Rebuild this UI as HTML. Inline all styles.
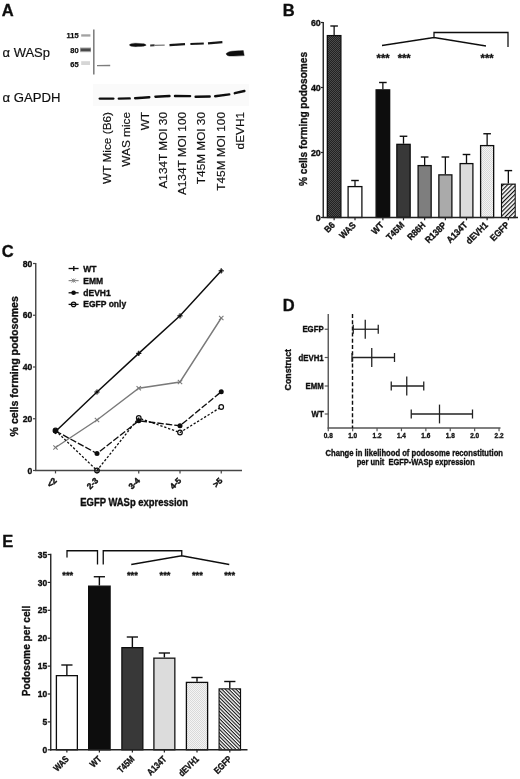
<!DOCTYPE html>
<html><head><meta charset="utf-8"><title>Figure</title>
<style>html,body{margin:0;padding:0;background:#fff;}svg{display:block;font-family:'Liberation Sans', sans-serif;}</style>
</head><body>
<svg width="520" height="779" viewBox="0 0 520 779" font-family='"Liberation Sans", sans-serif'>
<defs>
<pattern id="pdark" width="2" height="2" patternUnits="userSpaceOnUse"><rect width="2" height="2" fill="#222"/><rect width="1" height="1" fill="#4c4c4c"/><rect x="1" y="1" width="1" height="1" fill="#4c4c4c"/></pattern>
<pattern id="pdots" width="2" height="2" patternUnits="userSpaceOnUse"><rect width="2" height="2" fill="#f4f4f4"/><rect width="1" height="1" fill="#d9d9d9"/><rect x="1" y="1" width="1" height="1" fill="#d9d9d9"/></pattern>
<pattern id="hatchF" width="3" height="3" patternUnits="userSpaceOnUse" patternTransform="rotate(-45)"><rect width="3" height="3" fill="#fff"/><rect width="3" height="1.2" fill="#111"/></pattern>
<pattern id="hatchB" width="2.5" height="2.5" patternUnits="userSpaceOnUse" patternTransform="rotate(45)"><rect width="2.5" height="2.5" fill="#fff"/><rect width="2.5" height="1.1" fill="#111"/></pattern>
<filter id="bl" x="-20%" y="-100%" width="140%" height="300%"><feGaussianBlur stdDeviation="0.6"/></filter>
<filter id="bl2" x="-20%" y="-100%" width="140%" height="300%"><feGaussianBlur stdDeviation="0.9"/></filter>
<filter id="soft2" x="0" y="0" width="520" height="779" filterUnits="userSpaceOnUse"><feGaussianBlur stdDeviation="0.15"/></filter>
<filter id="soft" x="0" y="0" width="520" height="779" filterUnits="userSpaceOnUse"><feGaussianBlur stdDeviation="0.3"/></filter>
</defs>
<rect width="520" height="779" fill="#fff"/>
<g filter="url(#soft)">
<g id="panelA">
<text x="1.8" y="16.2" font-size="16.5" font-weight="bold" text-anchor="start" fill="#111" stroke="#111" stroke-width="0.35">A</text>
<text x="2.5" y="57" font-size="13" text-anchor="start" textLength="47.5" lengthAdjust="spacingAndGlyphs" fill="#111" stroke="#111" stroke-width="0.18">α WASp</text>
<text x="2.5" y="101.5" font-size="13" text-anchor="start" textLength="58" lengthAdjust="spacingAndGlyphs" fill="#111" stroke="#111" stroke-width="0.18">α GAPDH</text>
<text x="78.7" y="38.4" font-size="7.5" font-weight="bold" text-anchor="end" fill="#111" stroke="#111" stroke-width="0.25">115</text>
<text x="78.7" y="52.6" font-size="7.5" font-weight="bold" text-anchor="end" fill="#111" stroke="#111" stroke-width="0.25">80</text>
<text x="78.7" y="66.7" font-size="7.5" font-weight="bold" text-anchor="end" fill="#111" stroke="#111" stroke-width="0.25">65</text>
<g filter="url(#bl)">
<rect x="81.2" y="34.3" width="9.2" height="2.3" fill="#a2a2a2"/>
<rect x="80" y="47.4" width="11" height="4.8" fill="#b5b5b5"/>
<rect x="80.6" y="48.4" width="10" height="2.8" fill="#4a4a4a"/>
<rect x="81.2" y="61.2" width="8.8" height="3.8" fill="#d6d6d6"/>
</g>
<line x1="93.8" y1="29.6" x2="93.8" y2="74.6" stroke="#808080" stroke-width="1.6"/>
<g filter="url(#bl)">
<line x1="97" y1="65.7" x2="110.2" y2="65.5" stroke="#7d7d7d" stroke-width="1.3"/>
<path d="M129.3,45 Q130.5,43 136,43.2 L144,43.8 Q146.3,44.6 146.2,45.2 Q145,46.3 138,46.6 Q130.5,47 129.3,45 Z" stroke="#111" stroke-width="0.3" fill="#111"/>
<line x1="150.2" y1="45.4" x2="154.5" y2="45.3" stroke="#333" stroke-width="2"/>
<line x1="154" y1="45.4" x2="164.7" y2="45.1" stroke="#777" stroke-width="1.2"/>
<line x1="169.5" y1="45.1" x2="185" y2="44.1" stroke="#151515" stroke-width="2.2"/>
<line x1="190.4" y1="44.1" x2="203.8" y2="43.4" stroke="#151515" stroke-width="2.0"/>
<line x1="208" y1="43.4" x2="222.4" y2="42.2" stroke="#151515" stroke-width="2.2"/>
<path d="M226,53.8 Q228,51.2 235,51 L243.3,50.6 L244.2,55.6 Q236,56.3 229,56 Q226.5,55.5 226,53.8 Z" stroke="#111" stroke-width="0.4" fill="#111"/>
</g>
<rect x="93" y="84" width="156" height="22" fill="#fafafa"/>
<g filter="url(#bl)">
<line x1="99.8" y1="98.6" x2="113.30000000000001" y2="98.6" stroke="#111" stroke-width="2.4" stroke-linecap="round"/>
<line x1="118.8" y1="98.6" x2="129.70000000000002" y2="98.4" stroke="#111" stroke-width="2.4" stroke-linecap="round"/>
<line x1="135.1" y1="98.2" x2="149.3" y2="97.2" stroke="#111" stroke-width="2.4" stroke-linecap="round"/>
<line x1="155.4" y1="96.8" x2="169.5" y2="96" stroke="#111" stroke-width="2.4" stroke-linecap="round"/>
<line x1="175.0" y1="96" x2="190.1" y2="96.1" stroke="#111" stroke-width="2.4" stroke-linecap="round"/>
<line x1="195.6" y1="96.7" x2="209.70000000000002" y2="96.5" stroke="#111" stroke-width="2.4" stroke-linecap="round"/>
<line x1="215.1" y1="96.2" x2="229.3" y2="94.4" stroke="#111" stroke-width="2.4" stroke-linecap="round"/>
<line x1="234.79999999999998" y1="93.2" x2="244.4" y2="91" stroke="#111" stroke-width="2.4" stroke-linecap="round"/>
</g>
<text transform="translate(111,112) rotate(-90)" font-size="11.8" text-anchor="end" fill="#111" stroke="#111" stroke-width="0.18">WT Mice (B6)</text>
<text transform="translate(130,112) rotate(-90)" font-size="11.8" text-anchor="end" fill="#111" stroke="#111" stroke-width="0.18">WAS mice</text>
<text transform="translate(148.5,112) rotate(-90)" font-size="11.8" text-anchor="end" fill="#111" stroke="#111" stroke-width="0.18">WT</text>
<text transform="translate(167,112) rotate(-90)" font-size="11.8" text-anchor="end" fill="#111" stroke="#111" stroke-width="0.18">A134T MOI 30</text>
<text transform="translate(186,112) rotate(-90)" font-size="11.8" text-anchor="end" fill="#111" stroke="#111" stroke-width="0.18">A134T MOI 100</text>
<text transform="translate(205,112) rotate(-90)" font-size="11.8" text-anchor="end" fill="#111" stroke="#111" stroke-width="0.18">T45M MOI 30</text>
<text transform="translate(224.5,112) rotate(-90)" font-size="11.8" text-anchor="end" fill="#111" stroke="#111" stroke-width="0.18">T45M MOI 100</text>
<text transform="translate(243.5,112) rotate(-90)" font-size="11.8" text-anchor="end" fill="#111" stroke="#111" stroke-width="0.18">dEVH1</text>
</g>
<g id="panelB">
<text x="282.8" y="15.6" font-size="16.5" font-weight="bold" text-anchor="start" fill="#111" stroke="#111" stroke-width="0.35">B</text>
<line x1="334.125" y1="35" x2="334.125" y2="26" stroke="#111" stroke-width="1.3"/>
<line x1="330.325" y1="26" x2="337.925" y2="26" stroke="#111" stroke-width="1.4"/>
<rect x="327.35" y="35.6" width="13.55" height="181.9" fill="url(#pdark)" stroke="#111" stroke-width="1.3"/>
<line x1="334.125" y1="217.5" x2="334.125" y2="220.3" stroke="#222" stroke-width="1.2"/>
<text transform="translate(335.625,225.7) rotate(-45)" font-size="9.2" font-weight="bold" text-anchor="end" textLength="10.7" lengthAdjust="spacingAndGlyphs" fill="#111" stroke="#111" stroke-width="0.35">B6</text>
<line x1="355.0" y1="186" x2="355.0" y2="180.5" stroke="#111" stroke-width="1.3"/>
<line x1="351.2" y1="180.5" x2="358.8" y2="180.5" stroke="#111" stroke-width="1.4"/>
<rect x="348.1" y="186.6" width="13.8" height="30.9" fill="#fff" stroke="#111" stroke-width="1.3"/>
<line x1="355.0" y1="217.5" x2="355.0" y2="220.3" stroke="#222" stroke-width="1.2"/>
<text transform="translate(356.5,225.7) rotate(-45)" font-size="9.2" font-weight="bold" text-anchor="end" textLength="19.0" lengthAdjust="spacingAndGlyphs" fill="#111" stroke="#111" stroke-width="0.35">WAS</text>
<line x1="382.875" y1="89.25" x2="382.875" y2="82.5" stroke="#111" stroke-width="1.3"/>
<line x1="379.075" y1="82.5" x2="386.675" y2="82.5" stroke="#111" stroke-width="1.4"/>
<rect x="376.1" y="89.85" width="13.55" height="127.65" fill="#0a0a0a" stroke="#111" stroke-width="1.3"/>
<line x1="382.875" y1="217.5" x2="382.875" y2="220.3" stroke="#222" stroke-width="1.2"/>
<text transform="translate(384.375,225.7) rotate(-45)" font-size="9.2" font-weight="bold" text-anchor="end" textLength="13.0" lengthAdjust="spacingAndGlyphs" fill="#111" stroke="#111" stroke-width="0.35">WT</text>
<line x1="403.5" y1="143.75" x2="403.5" y2="136.25" stroke="#111" stroke-width="1.3"/>
<line x1="399.7" y1="136.25" x2="407.3" y2="136.25" stroke="#111" stroke-width="1.4"/>
<rect x="396.85" y="144.35" width="13.3" height="73.15" fill="#383838" stroke="#111" stroke-width="1.3"/>
<line x1="403.5" y1="217.5" x2="403.5" y2="220.3" stroke="#222" stroke-width="1.2"/>
<text transform="translate(405.0,225.7) rotate(-45)" font-size="9.2" font-weight="bold" text-anchor="end" textLength="21.3" lengthAdjust="spacingAndGlyphs" fill="#111" stroke="#111" stroke-width="0.35">T45M</text>
<line x1="424.625" y1="165" x2="424.625" y2="157" stroke="#111" stroke-width="1.3"/>
<line x1="420.825" y1="157" x2="428.425" y2="157" stroke="#111" stroke-width="1.4"/>
<rect x="418.1" y="165.6" width="13.05" height="51.9" fill="#7e7e7e" stroke="#111" stroke-width="1.3"/>
<line x1="424.625" y1="217.5" x2="424.625" y2="220.3" stroke="#222" stroke-width="1.2"/>
<text transform="translate(426.125,225.7) rotate(-45)" font-size="9.2" font-weight="bold" text-anchor="end" textLength="21.4" lengthAdjust="spacingAndGlyphs" fill="#111" stroke="#111" stroke-width="0.35">R86H</text>
<line x1="445.375" y1="174.25" x2="445.375" y2="157" stroke="#111" stroke-width="1.3"/>
<line x1="441.575" y1="157" x2="449.175" y2="157" stroke="#111" stroke-width="1.4"/>
<rect x="438.85" y="174.85" width="13.05" height="42.65" fill="#aaa" stroke="#111" stroke-width="1.3"/>
<line x1="445.375" y1="217.5" x2="445.375" y2="220.3" stroke="#222" stroke-width="1.2"/>
<text transform="translate(446.875,225.7) rotate(-45)" font-size="9.2" font-weight="bold" text-anchor="end" textLength="25.5" lengthAdjust="spacingAndGlyphs" fill="#111" stroke="#111" stroke-width="0.35">R138P</text>
<line x1="466.5" y1="163" x2="466.5" y2="154.5" stroke="#111" stroke-width="1.3"/>
<line x1="462.7" y1="154.5" x2="470.3" y2="154.5" stroke="#111" stroke-width="1.4"/>
<rect x="460.1" y="163.6" width="12.8" height="53.9" fill="#dcdcdc" stroke="#111" stroke-width="1.3"/>
<line x1="466.5" y1="217.5" x2="466.5" y2="220.3" stroke="#222" stroke-width="1.2"/>
<text transform="translate(468.0,225.7) rotate(-45)" font-size="9.2" font-weight="bold" text-anchor="end" textLength="25.1" lengthAdjust="spacingAndGlyphs" fill="#111" stroke="#111" stroke-width="0.35">A134T</text>
<line x1="487.125" y1="145" x2="487.125" y2="133.75" stroke="#111" stroke-width="1.3"/>
<line x1="483.325" y1="133.75" x2="490.925" y2="133.75" stroke="#111" stroke-width="1.4"/>
<rect x="480.6" y="145.6" width="13.05" height="71.9" fill="url(#pdots)" stroke="#111" stroke-width="1.3"/>
<line x1="487.125" y1="217.5" x2="487.125" y2="220.3" stroke="#222" stroke-width="1.2"/>
<text transform="translate(488.625,225.7) rotate(-45)" font-size="9.2" font-weight="bold" text-anchor="end" textLength="26.9" lengthAdjust="spacingAndGlyphs" fill="#111" stroke="#111" stroke-width="0.35">dEVH1</text>
<line x1="508.35" y1="183.6" x2="508.35" y2="170.6" stroke="#111" stroke-width="1.3"/>
<line x1="504.55" y1="170.6" x2="512.15" y2="170.6" stroke="#111" stroke-width="1.4"/>
<rect x="501.6" y="184.2" width="13.500000000000046" height="33.300000000000004" fill="url(#hatchF)" stroke="#111" stroke-width="1.3"/>
<line x1="508.35" y1="217.5" x2="508.35" y2="220.3" stroke="#222" stroke-width="1.2"/>
<text transform="translate(509.85,225.7) rotate(-45)" font-size="9.2" font-weight="bold" text-anchor="end" textLength="22.7" lengthAdjust="spacingAndGlyphs" fill="#111" stroke="#111" stroke-width="0.35">EGFP</text>
<line x1="323.25" y1="22" x2="323.25" y2="218.1" stroke="#222" stroke-width="1.4"/>
<line x1="322.6" y1="217.5" x2="518" y2="217.5" stroke="#222" stroke-width="1.4"/>
<line x1="321" y1="22.5" x2="323.25" y2="22.5" stroke="#222" stroke-width="1.2"/>
<text x="320.8" y="25.7" font-size="8.9" font-weight="bold" text-anchor="end" fill="#111" stroke="#111" stroke-width="0.35">60</text>
<line x1="321" y1="87.5" x2="323.25" y2="87.5" stroke="#222" stroke-width="1.2"/>
<text x="320.8" y="90.7" font-size="8.9" font-weight="bold" text-anchor="end" fill="#111" stroke="#111" stroke-width="0.35">40</text>
<line x1="321" y1="152.5" x2="323.25" y2="152.5" stroke="#222" stroke-width="1.2"/>
<text x="320.8" y="155.7" font-size="8.9" font-weight="bold" text-anchor="end" fill="#111" stroke="#111" stroke-width="0.35">20</text>
<line x1="321" y1="217.5" x2="323.25" y2="217.5" stroke="#222" stroke-width="1.2"/>
<text x="320.8" y="220.7" font-size="8.9" font-weight="bold" text-anchor="end" fill="#111" stroke="#111" stroke-width="0.35">0</text>
<text transform="translate(306.8,119) rotate(-90)" font-size="10.7" font-weight="bold" text-anchor="middle" textLength="134" lengthAdjust="spacingAndGlyphs" fill="#111" stroke="#111" stroke-width="0.35">% cells forming podosomes</text>
<path d="M382,45.5 L434,37.5 L486,46 M434,37.8 V32.5 H508 V47" stroke="#111" stroke-width="1.3" fill="none"/>
<text x="383.1" y="61.8" font-size="11.2" font-weight="bold" text-anchor="middle" fill="#111" stroke="#111" stroke-width="0.35">***</text>
<text x="404.2" y="61.8" font-size="11.2" font-weight="bold" text-anchor="middle" fill="#111" stroke="#111" stroke-width="0.35">***</text>
<text x="487.1" y="61.8" font-size="11.2" font-weight="bold" text-anchor="middle" fill="#111" stroke="#111" stroke-width="0.35">***</text>
</g>
<g id="panelC">
<text x="1.8" y="257.2" font-size="16.5" font-weight="bold" text-anchor="start" fill="#111" stroke="#111" stroke-width="0.35">C</text>
<line x1="35.75" y1="263" x2="35.75" y2="471.1" stroke="#444" stroke-width="1.4"/>
<line x1="35.1" y1="470.5" x2="242" y2="470.5" stroke="#444" stroke-width="1.4"/>
<line x1="33" y1="263.5" x2="35.75" y2="263.5" stroke="#444" stroke-width="1.2"/>
<text x="32.3" y="266.6" font-size="8.6" font-weight="bold" text-anchor="end" fill="#111" stroke="#111" stroke-width="0.35">80</text>
<line x1="33" y1="315.25" x2="35.75" y2="315.25" stroke="#444" stroke-width="1.2"/>
<text x="32.3" y="318.35" font-size="8.6" font-weight="bold" text-anchor="end" fill="#111" stroke="#111" stroke-width="0.35">60</text>
<line x1="33" y1="367" x2="35.75" y2="367" stroke="#444" stroke-width="1.2"/>
<text x="32.3" y="370.1" font-size="8.6" font-weight="bold" text-anchor="end" fill="#111" stroke="#111" stroke-width="0.35">40</text>
<line x1="33" y1="418.75" x2="35.75" y2="418.75" stroke="#444" stroke-width="1.2"/>
<text x="32.3" y="421.85" font-size="8.6" font-weight="bold" text-anchor="end" fill="#111" stroke="#111" stroke-width="0.35">20</text>
<line x1="33" y1="470.5" x2="35.75" y2="470.5" stroke="#444" stroke-width="1.2"/>
<text x="32.3" y="473.6" font-size="8.6" font-weight="bold" text-anchor="end" fill="#111" stroke="#111" stroke-width="0.35">0</text>
<line x1="55.5" y1="470.5" x2="55.5" y2="473.4" stroke="#444" stroke-width="1.2"/>
<text transform="translate(57.3,481.2) rotate(-45)" font-size="8.4" font-weight="bold" text-anchor="end" fill="#111" stroke="#111" stroke-width="0.45">&lt;2</text>
<line x1="97" y1="470.5" x2="97" y2="473.4" stroke="#444" stroke-width="1.2"/>
<text transform="translate(98.8,481.2) rotate(-45)" font-size="8.4" font-weight="bold" text-anchor="end" fill="#111" stroke="#111" stroke-width="0.45">2-3</text>
<line x1="138.75" y1="470.5" x2="138.75" y2="473.4" stroke="#444" stroke-width="1.2"/>
<text transform="translate(140.55,481.2) rotate(-45)" font-size="8.4" font-weight="bold" text-anchor="end" fill="#111" stroke="#111" stroke-width="0.45">3-4</text>
<line x1="180" y1="470.5" x2="180" y2="473.4" stroke="#444" stroke-width="1.2"/>
<text transform="translate(181.8,481.2) rotate(-45)" font-size="8.4" font-weight="bold" text-anchor="end" fill="#111" stroke="#111" stroke-width="0.45">4-5</text>
<line x1="221.25" y1="470.5" x2="221.25" y2="473.4" stroke="#444" stroke-width="1.2"/>
<text transform="translate(223.05,481.2) rotate(-45)" font-size="8.4" font-weight="bold" text-anchor="end" fill="#111" stroke="#111" stroke-width="0.45">&gt;5</text>
<text transform="translate(18,366.3) rotate(-90)" font-size="11.5" font-weight="bold" text-anchor="middle" textLength="140.3" lengthAdjust="spacingAndGlyphs" fill="#111" stroke="#111" stroke-width="0.35">% cells forming podosomes</text>
<text x="80.3" y="505.8" font-size="10.1" font-weight="bold" text-anchor="start" textLength="107.8" lengthAdjust="spacingAndGlyphs" fill="#111" stroke="#111" stroke-width="0.35">EGFP WASp expression</text>
<polyline points="55.5,447.5 97,420 138.75,388.25 180,382 221.25,318" fill="none" stroke="#7a7a7a" stroke-width="1.4"/>
<line x1="53.3" y1="445.3" x2="57.7" y2="449.7" stroke="#7a7a7a" stroke-width="1.1"/>
<line x1="53.3" y1="449.7" x2="57.7" y2="445.3" stroke="#7a7a7a" stroke-width="1.1"/>
<line x1="94.8" y1="417.8" x2="99.2" y2="422.2" stroke="#7a7a7a" stroke-width="1.1"/>
<line x1="94.8" y1="422.2" x2="99.2" y2="417.8" stroke="#7a7a7a" stroke-width="1.1"/>
<line x1="136.55" y1="386.05" x2="140.95" y2="390.45" stroke="#7a7a7a" stroke-width="1.1"/>
<line x1="136.55" y1="390.45" x2="140.95" y2="386.05" stroke="#7a7a7a" stroke-width="1.1"/>
<line x1="177.8" y1="379.8" x2="182.2" y2="384.2" stroke="#7a7a7a" stroke-width="1.1"/>
<line x1="177.8" y1="384.2" x2="182.2" y2="379.8" stroke="#7a7a7a" stroke-width="1.1"/>
<line x1="219.05" y1="315.8" x2="223.45" y2="320.2" stroke="#7a7a7a" stroke-width="1.1"/>
<line x1="219.05" y1="320.2" x2="223.45" y2="315.8" stroke="#7a7a7a" stroke-width="1.1"/>
<polyline points="55.5,430.5 97,470.5 138.75,418 180,432.5 221.25,407" fill="none" stroke="#111" stroke-width="1.3" stroke-dasharray="2.3,1.8"/>
<polyline points="55.5,430.9 97,453.5 138.75,420.8 180,425.75 221.25,391.75" fill="none" stroke="#111" stroke-width="1.35" stroke-dasharray="6.5,2"/>
<polyline points="55.5,431.5 97,392 138.75,353.4 180,315.8 221.25,270.8" fill="none" stroke="#111" stroke-width="1.5"/>
<line x1="52.9" y1="431.5" x2="58.1" y2="431.5" stroke="#111" stroke-width="1.2"/>
<line x1="55.5" y1="428.9" x2="55.5" y2="434.1" stroke="#111" stroke-width="1.2"/>
<line x1="54.2" y1="430.2" x2="56.8" y2="432.8" stroke="#111" stroke-width="0.96"/>
<line x1="54.2" y1="432.8" x2="56.8" y2="430.2" stroke="#111" stroke-width="0.96"/>
<line x1="94.4" y1="392" x2="99.6" y2="392" stroke="#111" stroke-width="1.2"/>
<line x1="97" y1="389.4" x2="97" y2="394.6" stroke="#111" stroke-width="1.2"/>
<line x1="95.7" y1="390.7" x2="98.3" y2="393.3" stroke="#111" stroke-width="0.96"/>
<line x1="95.7" y1="393.3" x2="98.3" y2="390.7" stroke="#111" stroke-width="0.96"/>
<line x1="136.15" y1="353.4" x2="141.35" y2="353.4" stroke="#111" stroke-width="1.2"/>
<line x1="138.75" y1="350.79999999999995" x2="138.75" y2="356.0" stroke="#111" stroke-width="1.2"/>
<line x1="137.45" y1="352.09999999999997" x2="140.05" y2="354.7" stroke="#111" stroke-width="0.96"/>
<line x1="137.45" y1="354.7" x2="140.05" y2="352.09999999999997" stroke="#111" stroke-width="0.96"/>
<line x1="177.4" y1="315.8" x2="182.6" y2="315.8" stroke="#111" stroke-width="1.2"/>
<line x1="180" y1="313.2" x2="180" y2="318.40000000000003" stroke="#111" stroke-width="1.2"/>
<line x1="178.7" y1="314.5" x2="181.3" y2="317.1" stroke="#111" stroke-width="0.96"/>
<line x1="178.7" y1="317.1" x2="181.3" y2="314.5" stroke="#111" stroke-width="0.96"/>
<line x1="218.65" y1="270.8" x2="223.85" y2="270.8" stroke="#111" stroke-width="1.2"/>
<line x1="221.25" y1="268.2" x2="221.25" y2="273.40000000000003" stroke="#111" stroke-width="1.2"/>
<line x1="219.95" y1="269.5" x2="222.55" y2="272.1" stroke="#111" stroke-width="0.96"/>
<line x1="219.95" y1="272.1" x2="222.55" y2="269.5" stroke="#111" stroke-width="0.96"/>
<circle cx="55.5" cy="430.9" r="2.5" fill="#111"/>
<circle cx="97" cy="453.5" r="2.5" fill="#111"/>
<circle cx="138.75" cy="420.8" r="2.5" fill="#111"/>
<circle cx="180" cy="425.75" r="2.5" fill="#111"/>
<circle cx="221.25" cy="391.75" r="2.5" fill="#111"/>
<circle cx="55.5" cy="430.5" r="2.3" fill="none" stroke="#111" stroke-width="1.2"/>
<circle cx="97" cy="470.5" r="2.3" fill="none" stroke="#111" stroke-width="1.2"/>
<circle cx="138.75" cy="418" r="2.3" fill="none" stroke="#111" stroke-width="1.2"/>
<circle cx="180" cy="432.5" r="2.3" fill="none" stroke="#111" stroke-width="1.2"/>
<circle cx="221.25" cy="407" r="2.3" fill="none" stroke="#111" stroke-width="1.2"/>
<line x1="68.6" y1="268.5" x2="78.6" y2="268.5" stroke="#111" stroke-width="1.3"/>
<line x1="73.8" y1="265.9" x2="73.8" y2="271.1" stroke="#111" stroke-width="1.4"/>
<line x1="68.6" y1="280.6" x2="78.6" y2="280.6" stroke="#8a8a8a" stroke-width="1.2"/>
<line x1="71.6" y1="278.6" x2="75.6" y2="282.6" stroke="#8a8a8a" stroke-width="1.0"/>
<line x1="71.6" y1="282.6" x2="75.6" y2="278.6" stroke="#8a8a8a" stroke-width="1.0"/>
<line x1="73.6" y1="278.6" x2="73.6" y2="282.6" stroke="#8a8a8a" stroke-width="0.9"/>
<line x1="68.6" y1="292.8" x2="78.6" y2="292.8" stroke="#111" stroke-width="1.3"/>
<circle cx="73.6" cy="292.8" r="2.3" fill="#111"/>
<line x1="68.6" y1="304.4" x2="78.6" y2="304.4" stroke="#111" stroke-width="1.3"/>
<circle cx="73.6" cy="304.4" r="2.2" fill="none" stroke="#111" stroke-width="1.2"/>
<text x="83.3" y="271.5" font-size="8.5" font-weight="bold" text-anchor="start" fill="#111" stroke="#111" stroke-width="0.35">WT</text>
<text x="83.3" y="283.6" font-size="8.5" font-weight="bold" text-anchor="start" fill="#111" stroke="#111" stroke-width="0.35">EMM</text>
<text x="83.3" y="295.8" font-size="8.5" font-weight="bold" text-anchor="start" fill="#111" stroke="#111" stroke-width="0.35">dEVH1</text>
<text x="83.3" y="307.4" font-size="8.5" font-weight="bold" text-anchor="start" fill="#111" stroke="#111" stroke-width="0.35">EGFP only</text>
</g>
<g id="panelD">
<text x="282.8" y="311.2" font-size="16.5" font-weight="bold" text-anchor="start" fill="#111" stroke="#111" stroke-width="0.35">D</text>
<line x1="328.25" y1="314" x2="328.25" y2="428.6" stroke="#555" stroke-width="1.4"/>
<line x1="327.6" y1="428" x2="500.5" y2="428" stroke="#555" stroke-width="1.4"/>
<line x1="352.5" y1="314" x2="352.5" y2="428" stroke="#111" stroke-width="1.4" stroke-dasharray="4,2.2"/>
<line x1="324.7" y1="329.25" x2="328.25" y2="329.25" stroke="#555" stroke-width="1.2"/>
<text x="323.7" y="332.3" font-size="8.4" font-weight="bold" text-anchor="end" textLength="21.3" lengthAdjust="spacingAndGlyphs" fill="#111" stroke="#111" stroke-width="0.35">EGFP</text>
<line x1="353.25" y1="329.25" x2="378.25" y2="329.25" stroke="#222" stroke-width="1.3"/>
<line x1="353.25" y1="324.75" x2="353.25" y2="333.75" stroke="#222" stroke-width="1.3"/>
<line x1="378.25" y1="324.75" x2="378.25" y2="333.75" stroke="#222" stroke-width="1.3"/>
<line x1="365.25" y1="319.85" x2="365.25" y2="338.65" stroke="#222" stroke-width="1.3"/>
<line x1="324.7" y1="357.5" x2="328.25" y2="357.5" stroke="#555" stroke-width="1.2"/>
<text x="323.7" y="360.55" font-size="8.4" font-weight="bold" text-anchor="end" textLength="25.2" lengthAdjust="spacingAndGlyphs" fill="#111" stroke="#111" stroke-width="0.35">dEVH1</text>
<line x1="352" y1="357.5" x2="394.5" y2="357.5" stroke="#222" stroke-width="1.3"/>
<line x1="352" y1="353.0" x2="352" y2="362.0" stroke="#222" stroke-width="1.3"/>
<line x1="394.5" y1="353.0" x2="394.5" y2="362.0" stroke="#222" stroke-width="1.3"/>
<line x1="371.75" y1="348.1" x2="371.75" y2="366.9" stroke="#222" stroke-width="1.3"/>
<line x1="324.7" y1="386" x2="328.25" y2="386" stroke="#555" stroke-width="1.2"/>
<text x="323.7" y="389.05" font-size="8.4" font-weight="bold" text-anchor="end" textLength="18.2" lengthAdjust="spacingAndGlyphs" fill="#111" stroke="#111" stroke-width="0.35">EMM</text>
<line x1="391.25" y1="386" x2="423.75" y2="386" stroke="#222" stroke-width="1.3"/>
<line x1="391.25" y1="381.5" x2="391.25" y2="390.5" stroke="#222" stroke-width="1.3"/>
<line x1="423.75" y1="381.5" x2="423.75" y2="390.5" stroke="#222" stroke-width="1.3"/>
<line x1="406.75" y1="376.6" x2="406.75" y2="395.4" stroke="#222" stroke-width="1.3"/>
<line x1="324.7" y1="414" x2="328.25" y2="414" stroke="#555" stroke-width="1.2"/>
<text x="323.7" y="417.05" font-size="8.4" font-weight="bold" text-anchor="end" textLength="12.1" lengthAdjust="spacingAndGlyphs" fill="#111" stroke="#111" stroke-width="0.35">WT</text>
<line x1="411.25" y1="414" x2="472.5" y2="414" stroke="#222" stroke-width="1.3"/>
<line x1="411.25" y1="409.5" x2="411.25" y2="418.5" stroke="#222" stroke-width="1.3"/>
<line x1="472.5" y1="409.5" x2="472.5" y2="418.5" stroke="#222" stroke-width="1.3"/>
<line x1="439.5" y1="404.6" x2="439.5" y2="423.4" stroke="#222" stroke-width="1.3"/>
<line x1="328.25" y1="428" x2="328.25" y2="431.2" stroke="#555" stroke-width="1.2"/>
<text x="328.25" y="437.7" font-size="7.3" font-weight="bold" text-anchor="middle" textLength="9" lengthAdjust="spacingAndGlyphs" fill="#111" stroke="#111" stroke-width="0.35">0.8</text>
<line x1="352.65" y1="428" x2="352.65" y2="431.2" stroke="#555" stroke-width="1.2"/>
<text x="352.65" y="437.7" font-size="7.3" font-weight="bold" text-anchor="middle" textLength="9" lengthAdjust="spacingAndGlyphs" fill="#111" stroke="#111" stroke-width="0.35">1.0</text>
<line x1="377.05" y1="428" x2="377.05" y2="431.2" stroke="#555" stroke-width="1.2"/>
<text x="377.05" y="437.7" font-size="7.3" font-weight="bold" text-anchor="middle" textLength="9" lengthAdjust="spacingAndGlyphs" fill="#111" stroke="#111" stroke-width="0.35">1.2</text>
<line x1="401.45" y1="428" x2="401.45" y2="431.2" stroke="#555" stroke-width="1.2"/>
<text x="401.45" y="437.7" font-size="7.3" font-weight="bold" text-anchor="middle" textLength="9" lengthAdjust="spacingAndGlyphs" fill="#111" stroke="#111" stroke-width="0.35">1.4</text>
<line x1="425.85" y1="428" x2="425.85" y2="431.2" stroke="#555" stroke-width="1.2"/>
<text x="425.85" y="437.7" font-size="7.3" font-weight="bold" text-anchor="middle" textLength="9" lengthAdjust="spacingAndGlyphs" fill="#111" stroke="#111" stroke-width="0.35">1.6</text>
<line x1="450.25" y1="428" x2="450.25" y2="431.2" stroke="#555" stroke-width="1.2"/>
<text x="450.25" y="437.7" font-size="7.3" font-weight="bold" text-anchor="middle" textLength="9" lengthAdjust="spacingAndGlyphs" fill="#111" stroke="#111" stroke-width="0.35">1.8</text>
<line x1="474.65" y1="428" x2="474.65" y2="431.2" stroke="#555" stroke-width="1.2"/>
<text x="474.65" y="437.7" font-size="7.3" font-weight="bold" text-anchor="middle" textLength="9" lengthAdjust="spacingAndGlyphs" fill="#111" stroke="#111" stroke-width="0.35">2.0</text>
<line x1="499.04999999999995" y1="428" x2="499.04999999999995" y2="431.2" stroke="#555" stroke-width="1.2"/>
<text x="499.04999999999995" y="437.7" font-size="7.3" font-weight="bold" text-anchor="middle" textLength="9" lengthAdjust="spacingAndGlyphs" fill="#111" stroke="#111" stroke-width="0.35">2.2</text>
<text transform="translate(291.3,369.7) rotate(-90)" font-size="9.8" font-weight="bold" text-anchor="middle" textLength="41.5" lengthAdjust="spacingAndGlyphs" fill="#111" stroke="#111" stroke-width="0.35">Construct</text>
<text x="325.5" y="455.7" font-size="8.3" font-weight="bold" text-anchor="start" textLength="177.5" lengthAdjust="spacingAndGlyphs" fill="#111" stroke="#111" stroke-width="0.35">Change in likelihood of podosome reconstitution</text>
<text x="356.75" y="465" font-size="8.3" font-weight="bold" text-anchor="start" textLength="118" lengthAdjust="spacingAndGlyphs" fill="#111" xml:space="preserve" stroke="#111" stroke-width="0.35">per unit  EGFP-WASp expression</text>
</g>
<g id="panelE">
<text x="2.2" y="547" font-size="16.5" font-weight="bold" text-anchor="start" fill="#111" stroke="#111" stroke-width="0.35">E</text>
<line x1="66.875" y1="675" x2="66.875" y2="665" stroke="#111" stroke-width="1.4"/>
<line x1="61.275" y1="665" x2="72.475" y2="665" stroke="#111" stroke-width="1.4"/>
<rect x="56.4" y="675.65" width="20.95" height="74.14999999999995" fill="#fff" stroke="#111" stroke-width="1.3"/>
<line x1="66.875" y1="749.8" x2="66.875" y2="752.5999999999999" stroke="#222" stroke-width="1.2"/>
<text transform="translate(69.475,759.6999999999999) rotate(-45)" font-size="9.3" font-weight="bold" text-anchor="end" textLength="17.4" lengthAdjust="spacingAndGlyphs" fill="#111" stroke="#111" stroke-width="0.35">WAS</text>
<line x1="99.375" y1="585.5" x2="99.375" y2="576.75" stroke="#111" stroke-width="1.4"/>
<line x1="93.775" y1="576.75" x2="104.975" y2="576.75" stroke="#111" stroke-width="1.4"/>
<rect x="88.65" y="586.15" width="21.45" height="163.64999999999995" fill="#0a0a0a" stroke="#111" stroke-width="1.3"/>
<line x1="99.375" y1="749.8" x2="99.375" y2="752.5999999999999" stroke="#222" stroke-width="1.2"/>
<text transform="translate(101.975,759.6999999999999) rotate(-45)" font-size="9.3" font-weight="bold" text-anchor="end" textLength="11.9" lengthAdjust="spacingAndGlyphs" fill="#111" stroke="#111" stroke-width="0.35">WT</text>
<line x1="132.375" y1="647" x2="132.375" y2="637" stroke="#111" stroke-width="1.4"/>
<line x1="126.775" y1="637" x2="137.975" y2="637" stroke="#111" stroke-width="1.4"/>
<rect x="121.9" y="647.65" width="20.95" height="102.14999999999995" fill="#383838" stroke="#111" stroke-width="1.3"/>
<line x1="132.375" y1="749.8" x2="132.375" y2="752.5999999999999" stroke="#222" stroke-width="1.2"/>
<text transform="translate(134.975,759.6999999999999) rotate(-45)" font-size="9.3" font-weight="bold" text-anchor="end" textLength="19.5" lengthAdjust="spacingAndGlyphs" fill="#111" stroke="#111" stroke-width="0.35">T45M</text>
<line x1="164.375" y1="657.5" x2="164.375" y2="653" stroke="#111" stroke-width="1.4"/>
<line x1="158.775" y1="653" x2="169.975" y2="653" stroke="#111" stroke-width="1.4"/>
<rect x="153.9" y="658.15" width="20.95" height="91.64999999999995" fill="#dcdcdc" stroke="#111" stroke-width="1.3"/>
<line x1="164.375" y1="749.8" x2="164.375" y2="752.5999999999999" stroke="#222" stroke-width="1.2"/>
<text transform="translate(166.975,759.6999999999999) rotate(-45)" font-size="9.3" font-weight="bold" text-anchor="end" textLength="22.9" lengthAdjust="spacingAndGlyphs" fill="#111" stroke="#111" stroke-width="0.35">A134T</text>
<line x1="197.0" y1="681.75" x2="197.0" y2="677.5" stroke="#111" stroke-width="1.4"/>
<line x1="191.4" y1="677.5" x2="202.6" y2="677.5" stroke="#111" stroke-width="1.4"/>
<rect x="186.4" y="682.4" width="21.2" height="67.39999999999995" fill="url(#pdots)" stroke="#111" stroke-width="1.3"/>
<line x1="197.0" y1="749.8" x2="197.0" y2="752.5999999999999" stroke="#222" stroke-width="1.2"/>
<text transform="translate(199.6,759.6999999999999) rotate(-45)" font-size="9.3" font-weight="bold" text-anchor="end" textLength="24.6" lengthAdjust="spacingAndGlyphs" fill="#111" stroke="#111" stroke-width="0.35">dEVH1</text>
<line x1="229.8" y1="688.3" x2="229.8" y2="681.5" stroke="#111" stroke-width="1.4"/>
<line x1="224.20000000000002" y1="681.5" x2="235.4" y2="681.5" stroke="#111" stroke-width="1.4"/>
<rect x="219.15" y="688.9499999999999" width="21.299999999999994" height="60.85" fill="url(#hatchB)" stroke="#111" stroke-width="1.3"/>
<line x1="229.8" y1="749.8" x2="229.8" y2="752.5999999999999" stroke="#222" stroke-width="1.2"/>
<text transform="translate(232.4,759.6999999999999) rotate(-45)" font-size="9.3" font-weight="bold" text-anchor="end" textLength="20.8" lengthAdjust="spacingAndGlyphs" fill="#111" stroke="#111" stroke-width="0.35">EGFP</text>
<line x1="50.75" y1="553.7" x2="50.75" y2="750.4" stroke="#222" stroke-width="1.4"/>
<line x1="50.1" y1="749.8" x2="247.5" y2="749.8" stroke="#222" stroke-width="1.4"/>
<line x1="47.7" y1="749.8" x2="50.75" y2="749.8" stroke="#222" stroke-width="1.2"/>
<text x="47.3" y="752.9" font-size="8.5" font-weight="bold" text-anchor="end" fill="#111" stroke="#111" stroke-width="0.35">0</text>
<line x1="47.7" y1="721.9" x2="50.75" y2="721.9" stroke="#222" stroke-width="1.2"/>
<text x="47.3" y="725.0" font-size="8.5" font-weight="bold" text-anchor="end" fill="#111" stroke="#111" stroke-width="0.35">5</text>
<line x1="47.7" y1="694.0" x2="50.75" y2="694.0" stroke="#222" stroke-width="1.2"/>
<text x="47.3" y="697.1" font-size="8.5" font-weight="bold" text-anchor="end" fill="#111" stroke="#111" stroke-width="0.35">10</text>
<line x1="47.7" y1="666.0999999999999" x2="50.75" y2="666.0999999999999" stroke="#222" stroke-width="1.2"/>
<text x="47.3" y="669.1999999999999" font-size="8.5" font-weight="bold" text-anchor="end" fill="#111" stroke="#111" stroke-width="0.35">15</text>
<line x1="47.7" y1="638.1999999999999" x2="50.75" y2="638.1999999999999" stroke="#222" stroke-width="1.2"/>
<text x="47.3" y="641.3" font-size="8.5" font-weight="bold" text-anchor="end" fill="#111" stroke="#111" stroke-width="0.35">20</text>
<line x1="47.7" y1="610.3" x2="50.75" y2="610.3" stroke="#222" stroke-width="1.2"/>
<text x="47.3" y="613.4" font-size="8.5" font-weight="bold" text-anchor="end" fill="#111" stroke="#111" stroke-width="0.35">25</text>
<line x1="47.7" y1="582.4" x2="50.75" y2="582.4" stroke="#222" stroke-width="1.2"/>
<text x="47.3" y="585.5" font-size="8.5" font-weight="bold" text-anchor="end" fill="#111" stroke="#111" stroke-width="0.35">30</text>
<line x1="47.7" y1="554.5" x2="50.75" y2="554.5" stroke="#222" stroke-width="1.2"/>
<text x="47.3" y="557.6" font-size="8.5" font-weight="bold" text-anchor="end" fill="#111" stroke="#111" stroke-width="0.35">35</text>
<text transform="translate(30.3,651) rotate(-90)" font-size="11" font-weight="bold" text-anchor="middle" textLength="90.4" lengthAdjust="spacingAndGlyphs" fill="#111" stroke="#111" stroke-width="0.35">Podosome per cell</text>
<path d="M67,557.5 V550.75 H97.5 V564.5" stroke="#111" stroke-width="1.3" fill="none"/>
<path d="M103.25,564.5 V550.75 H181.75 V555.9 M131.25,564.5 L181.75,555.75 L229.25,564.5" stroke="#111" stroke-width="1.3" fill="none"/>
<text x="67.7" y="577.8" font-size="9.3" font-weight="bold" text-anchor="middle" fill="#111" stroke="#111" stroke-width="0.35">***</text>
<text x="132.4" y="577.8" font-size="9.3" font-weight="bold" text-anchor="middle" fill="#111" stroke="#111" stroke-width="0.35">***</text>
<text x="165" y="577.8" font-size="9.3" font-weight="bold" text-anchor="middle" fill="#111" stroke="#111" stroke-width="0.35">***</text>
<text x="197.4" y="577.8" font-size="9.3" font-weight="bold" text-anchor="middle" fill="#111" stroke="#111" stroke-width="0.35">***</text>
<text x="229.6" y="577.8" font-size="9.3" font-weight="bold" text-anchor="middle" fill="#111" stroke="#111" stroke-width="0.35">***</text>
</g>
</g>
<g filter="url(#soft2)">
<rect x="502.25" y="184.85" width="12.200000000000045" height="32.00000000000001" fill="url(#hatchF)"/>
<rect x="219.8" y="689.5999999999999" width="19.999999999999993" height="59.5" fill="url(#hatchB)"/>
</g>
</svg></body></html>
